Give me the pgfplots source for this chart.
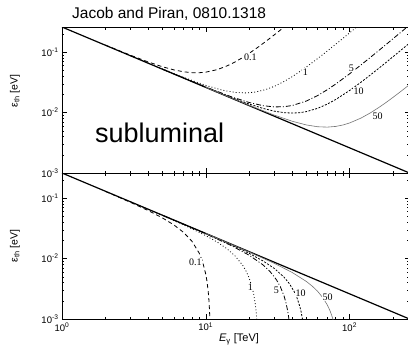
\documentclass[border=0pt]{standalone}
\usepackage{fontspec}
\setmainfont{Liberation Sans}
\newfontfamily\seriffont{Liberation Serif}
\usepackage{pgfplots}
\pgfplotsset{compat=1.18}

\tikzset{
  c01/.style={black, line width=0.8pt, dash pattern=on 4pt off 3pt},
  c1/.style={black, line width=0.8pt, dash pattern=on 0.9pt off 2.2pt},
  c5/.style={black, line width=0.8pt, dash pattern=on 5pt off 2pt on 1pt off 2pt},
  c10/.style={black, line width=0.8pt, dash pattern=on 2pt off 1.5pt},
  c50/.style={black!55, line width=0.6pt},
  lab/.style={font=\seriffont\fontsize{10}{11}\selectfont, fill=white, inner sep=0.6pt},
}

\begin{document}
\begin{tikzpicture}
\useasboundingbox (0pt,0pt) rectangle (408pt,-346pt);

% ---------- top panel (subluminal) ----------
\begin{axis}[
    xmode=log, ymode=log, scale only axis,
    width=347.5pt, height=146pt,
    xmin=1, xmax=261, ymin=0.001, ymax=0.261,
    xtick={1,10,100}, ytick={0.001,0.01,0.1},
    minor xtick={2,3,4,5,6,7,8,9,20,30,40,50,60,70,80,90,200},
    minor ytick={0.002,0.003,0.004,0.005,0.006,0.007,0.008,0.009,0.02,0.03,0.04,0.05,0.06,0.07,0.08,0.09,0.2},
    yticklabels={10\textsuperscript{-3},10\textsuperscript{-2},10\textsuperscript{-1}},
    xticklabels={},
    tick align=inside, major tick length=5pt, minor tick length=2.5pt,
    tick style={black, line width=0.5pt},
    axis line style={line width=0.8pt},
    ticklabel style={font=\fontsize{9.5}{10}\selectfont},
    at={(62pt,-173pt)}, anchor=south west]
\addplot[black, line width=1.2pt] coordinates {(1,0.261) (261,0.001)};
\addplot[c01] coordinates {
(2,0.1313) (3,0.0889) (4,0.06855) (5,0.05735) (6,0.05092) (7,0.04738)
(8,0.04581) (9,0.04569) (10,0.0467) (12,0.05141) (14,0.05902) (16,0.06905)
(18,0.08124) (20,0.09545) (23,0.12032) (26,0.14929) (30,0.1941) (33,0.23224) (36,0.27423)};
\addplot[c1] coordinates {
(3,0.08719) (5,0.05272) (7,0.0383) (10,0.02816) (13,0.02356) (16,0.02159)
(19,0.02117) (22,0.02183) (26,0.02396) (30,0.02724) (35,0.03269) (40,0.03949)
(50,0.05672) (60,0.07851) (70,0.10467) (80,0.1351) (90,0.16976) (100,0.20861)
(110,0.25163) (115,0.2747)};
\addplot[c5] coordinates {
(5,0.0523) (10,0.02651) (15,0.01833) (20,0.0147) (25,0.01302) (30,0.01241)
(35,0.0125) (40,0.01312) (50,0.01552) (60,0.01918) (70,0.02392) (80,0.02963)
(100,0.04381) (120,0.0615) (140,0.08262) (160,0.1071) (180,0.13494)
(200,0.16611) (230,0.21908) (261,0.28163)};
\addplot[c10] coordinates {
(5,0.05225) (10,0.02631) (15,0.01786) (20,0.01387) (25,0.01173) (30,0.01055)
(35,0.00998) (40,0.00982) (45,0.00997) (50,0.01037) (60,0.01177) (70,0.01382)
(80,0.01645) (100,0.02321) (120,0.03184) (140,0.04224) (160,0.05437)
(180,0.06819) (200,0.08371) (230,0.11011) (261,0.14133)};
\addplot[c50] coordinates {
(10,0.02614) (20,0.01322) (30,0.00907) (40,0.00718) (50,0.00625) (60,0.00583)
(70,0.00575) (80,0.0059) (90,0.00624) (100,0.00673) (120,0.00811) (140,0.00994)
(160,0.01218) (180,0.0148) (200,0.01779) (230,0.02293) (261,0.02907)};
\node[lab] at (axis cs:20.4,0.0833) {0.1};
\node[lab] at (axis cs:49.3,0.0471) {1};
\node[lab] at (axis cs:103,0.0548) {5};
\node[lab] at (axis cs:115.6,0.0229) {10};
\node[lab] at (axis cs:156.7,0.0088) {50};
\end{axis}

% ---------- bottom panel ----------
\begin{axis}[
    xmode=log, ymode=log, scale only axis,
    width=347.5pt, height=146pt,
    xmin=1, xmax=261, ymin=0.001, ymax=0.261,
    xtick={1,10,100}, ytick={0.001,0.01,0.1},
    minor xtick={2,3,4,5,6,7,8,9,20,30,40,50,60,70,80,90,200},
    minor ytick={0.002,0.003,0.004,0.005,0.006,0.007,0.008,0.009,0.02,0.03,0.04,0.05,0.06,0.07,0.08,0.09,0.2},
    yticklabels={10\textsuperscript{-3},10\textsuperscript{-2},10\textsuperscript{-1}},
    xticklabels={10\textsuperscript{0},10\textsuperscript{1},10\textsuperscript{2}},
    tick align=inside, major tick length=5pt, minor tick length=2.5pt,
    tick style={black, line width=0.5pt},
    axis line style={line width=0.8pt},
    ticklabel style={font=\fontsize{9.5}{10}\selectfont},
    at={(62pt,-319pt)}, anchor=south west]
\addplot[black, line width=1.2pt] coordinates {(1,0.261) (261,0.001)};
\addplot[c01] coordinates {
(2,0.12968) (3,0.08515) (4,0.06195) (5,0.04705) (6,0.03608) (7,0.02719)
(8,0.01944) (9,0.01231) (9.5,0.00888) (10,0.0055) (10.2,0.00416) (10.4,0.00282)
(10.5,0.00215) (10.6,0.00148) (10.65,0.00114) (10.7,0.00081)};
\addplot[c1] coordinates {
(3,0.08681) (5,0.05169) (7,0.03628) (10,0.02404) (12,0.01878) (14,0.01461)
(16,0.01104) (18,0.00783) (19,0.0063) (20,0.00481) (21,0.00334) (21.5,0.00262)
(22,0.00189) (22.3,0.00146) (22.6,0.00103) (22.8,0.00074)};
\addplot[c5] coordinates {
(5,0.0521) (10,0.02569) (15,0.01647) (20,0.0114) (25,0.00787) (28,0.00609)
(31,0.00446) (33,0.00342) (35,0.00241) (36,0.00191) (37,0.00141) (37.5,0.00117)
(38,0.00092)};
\addplot[c10] coordinates {
(5,0.05215) (10,0.02589) (15,0.01694) (20,0.01223) (25,0.00915) (30,0.00685)
(35,0.00493) (38,0.00389) (41,0.0029) (43,0.00226) (45,0.00163) (46,0.00132)
(47,0.001) (47.5,0.00085)};
\addplot[c50] coordinates {
(10,0.02606) (20,0.01289) (30,0.00833) (40,0.00587) (50,0.00419) (55,0.0035)
(60,0.00287) (65,0.00227) (70,0.00171) (73,0.00138) (75,0.00116) (77,0.00095)
(78,0.00084)};
\node[lab] at (axis cs:8.45,0.00875) {0.1};
\node[lab] at (axis cs:20.4,0.00338) {1};
\node[lab] at (axis cs:31,0.00301) {5};
\node[lab] at (axis cs:45.6,0.00269) {10};
\node[lab] at (axis cs:70.3,0.00231) {50};
\end{axis}

% ---------- texts ----------
\node[anchor=base west, inner sep=0pt, font=\fontsize{15.5}{17}\selectfont] at (72pt,-18.5pt) {Jacob and Piran, 0810.1318};
\node[anchor=base west, inner sep=0pt, font=\fontsize{27}{30}\selectfont] at (95pt,-142pt) {subluminal};
\node[rotate=90, inner sep=0pt, font=\fontsize{10.5}{12}\selectfont] at (15pt,-91pt) {ε\textsubscript{th} [eV]};
\node[rotate=90, inner sep=0pt, font=\fontsize{10.5}{12}\selectfont] at (15pt,-246pt) {ε\textsubscript{th} [eV]};
\node[inner sep=0pt, font=\fontsize{11}{12}\selectfont] at (239pt,-339pt) {\textit{E}\textsubscript{γ} [TeV]};
\end{tikzpicture}
\end{document}
